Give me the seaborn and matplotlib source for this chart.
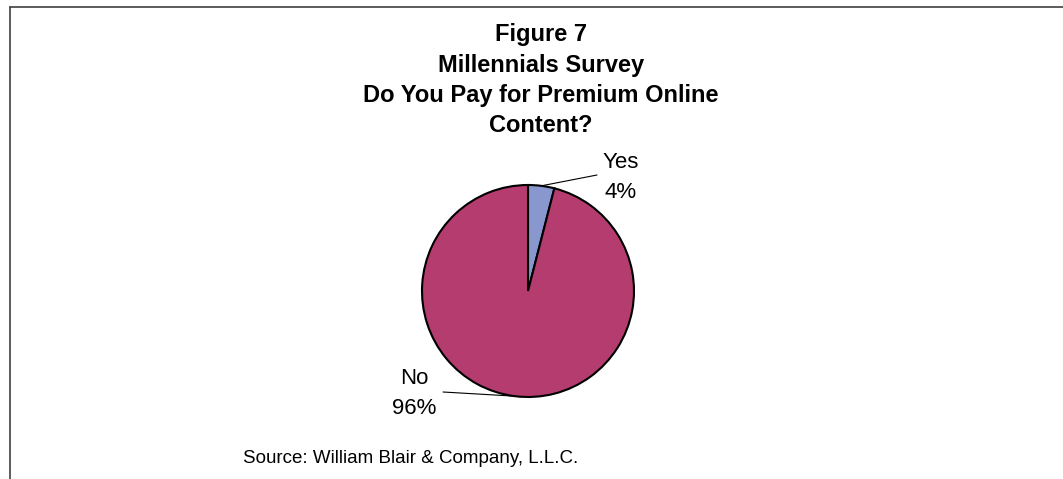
import matplotlib
matplotlib.use("Agg")
import matplotlib.pyplot as plt
from matplotlib.lines import Line2D
import numpy as np
import seaborn as sns

# Survey answers and their shares (%)
answers = ["Yes", "No"]
shares = [4, 96]
slice_colors = ["#8898CE", "#B43C6E"]

title_lines = ["Figure 7", "Millennials Survey", "Do You Pay for Premium Online", "Content?"]
source_note = "Source: William Blair & Company, L.L.C."

sns.set_theme(style="white")
plt.rcParams["font.family"] = ["Liberation Sans", "DejaVu Sans"]

W, H = 1063, 479
fig = plt.figure(figsize=(W / 100, H / 100), dpi=100)
fig.patch.set_facecolor("white")

# Pie axes: radius 106 px, centred at (528, 291) px from top-left
R = 106
cx, cy = 528, 291
lim = 1.5
side = 2 * lim * R
ax = fig.add_axes([(cx - side / 2) / W, (H - cy - side / 2) / H, side / W, side / H])
ax.axis("off")

palette = sns.color_palette(slice_colors)
wedges, _ = ax.pie(
    shares, colors=palette, startangle=90, counterclock=False, radius=1,
    wedgeprops=dict(edgecolor="black", linewidth=1.5),
)
ax.set_xlim(-lim, lim)
ax.set_ylim(-lim, lim)
ax.set_aspect("equal")


def px_to_data(x, y):
    return (x - cx) / R, (cy - y) / R


# Data labels (name and percentage on two lines) with leader lines
total = float(sum(shares))
label_x = {"Yes": 621, "No": 414}
label_baselines = {"Yes": (168, 198), "No": (384, 414)}
line_end = {"Yes": (597, 175), "No": (443, 392)}
start = 90.0
for name, val in zip(answers, shares):
    span = 360.0 * val / total
    mid = np.deg2rad(start - span / 2)
    start -= span
    ex, ey = px_to_data(*line_end[name])
    ax.add_line(Line2D([np.cos(mid), ex], [np.sin(mid), ey], color="black", linewidth=0.8))
    b1, b2 = label_baselines[name]
    for txt, b in ((name, b1), (f"{val}%", b2)):
        fig.text(label_x[name] / W, 1 - b / H, txt, ha="center", va="baseline",
                 fontsize=16, color="black")

# Title block
title_baselines = [41, 72, 102, 132]
for line, b in zip(title_lines, title_baselines):
    fig.text(541 / W, 1 - b / H, line, ha="center", va="baseline",
             fontsize=17, fontweight="bold", color="black")

# Source note
fig.text(243 / W, 1 - 463 / H, source_note, ha="left", va="baseline",
         fontsize=13.5, color="black")

# Frame lines along the top and left edges
fig.add_artist(Line2D([10 / W, 10 / W], [0, 1 - 7 / H], transform=fig.transFigure,
                      color="#404040", linewidth=1.2))
fig.add_artist(Line2D([10 / W, 1], [1 - 7 / H, 1 - 7 / H], transform=fig.transFigure,
                      color="#404040", linewidth=1.2))

fig.savefig("out.png", dpi=100, facecolor="white")
